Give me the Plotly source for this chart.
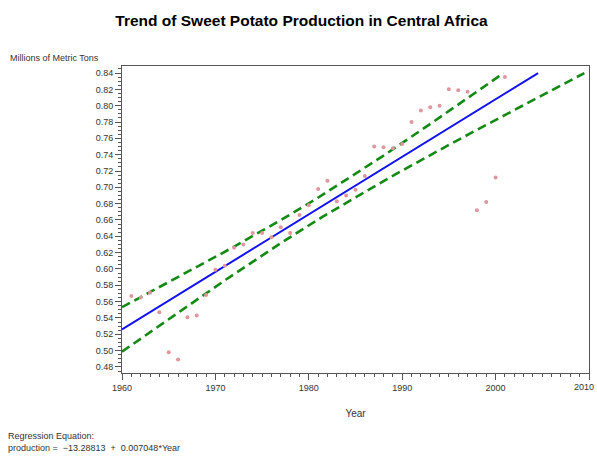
import numpy as np
import plotly.graph_objects as go

# Annual sweet potato production in Central Africa (millions of metric tons)
years = [1961, 1962, 1963, 1964, 1965, 1966, 1967, 1968, 1969, 1970,
         1971, 1972, 1973, 1974, 1975, 1976, 1977, 1978, 1979, 1980,
         1981, 1982, 1983, 1984, 1985, 1986, 1987, 1988, 1989, 1990,
         1991, 1992, 1993, 1994, 1995, 1996, 1997, 1998, 1999, 2000, 2001]
production = [0.567, 0.565, 0.571, 0.547, 0.498, 0.489, 0.541, 0.543, 0.568, 0.599,
              0.604, 0.626, 0.630, 0.644, 0.644, 0.639, 0.651, 0.644, 0.666, 0.678,
              0.698, 0.708, 0.683, 0.690, 0.697, 0.714, 0.750, 0.749, 0.748, 0.753,
              0.780, 0.794, 0.798, 0.800, 0.820, 0.819, 0.817, 0.672, 0.682, 0.712, 0.835]

# Fitted regression equation
intercept = -13.28813
slope = 0.007048

y_ticks = [0.48, 0.50, 0.52, 0.54, 0.56, 0.58, 0.60, 0.62, 0.64, 0.66, 0.68,
           0.70, 0.72, 0.74, 0.76, 0.78, 0.80, 0.82, 0.84]
x_ticks = [1960, 1970, 1980, 1990, 2000, 2010]
y_max_line = 0.84

x = np.array(years, dtype=float)
yv = np.array(production)
n = len(x)
resid = yv - (intercept + slope * x)
s = np.sqrt(np.sum(resid ** 2) / (n - 2))
xbar = x.mean()
sxx = np.sum((x - xbar) ** 2)
t95 = 2.0227  # t(0.975, 39)

grid = np.linspace(1960, 2010, 1001)
fit = intercept + slope * grid
half = t95 * s * np.sqrt(1.0 / n + (grid - xbar) ** 2 / sxx)
lower = fit - half
upper = fit + half


def clip(arr):
    return [v if v <= y_max_line else None for v in arr]


fig = go.Figure()
fig.add_trace(go.Scatter(x=grid, y=clip(upper), mode="lines",
                         line=dict(color="#138a13", width=2.6, dash="9px,5px"),
                         hoverinfo="skip"))
fig.add_trace(go.Scatter(x=grid, y=clip(lower), mode="lines",
                         line=dict(color="#138a13", width=2.6, dash="9px,5px"),
                         hoverinfo="skip"))
fig.add_trace(go.Scatter(x=grid, y=clip(fit), mode="lines",
                         line=dict(color="#1010f0", width=2)))
fig.add_trace(go.Scatter(x=years, y=production, mode="markers",
                         marker=dict(color="#e0959f", size=4, symbol="circle")))

# The last year label sits flush with the page edge, so it is placed separately
x_ticktext = [str(v) for v in x_ticks[:-1]] + [""]

font = "Liberation Sans, Arial, sans-serif"
fig.update_layout(
    width=597, height=460,
    margin=dict(l=122, r=8, t=66, b=87),
    paper_bgcolor="white", plot_bgcolor="white",
    showlegend=False,
    font=dict(family=font, size=9, color="#222"),
    title=dict(text="<b>Trend of Sweet Potato Production in Central Africa</b>",
               x=0.505, xanchor="center", y=0.956, yanchor="middle",
               font=dict(size=15.5, color="#000", family=font)),
    xaxis=dict(range=[1960, 2010], tickvals=x_ticks, ticktext=x_ticktext,
               showgrid=False, zeroline=False, showline=True, linecolor="#555",
               linewidth=1, mirror=True, ticks="outside", ticklen=6, tickcolor="#555",
               automargin=False,
               minor=dict(dtick=1, ticks="outside", ticklen=3, tickcolor="#555"),
               tickfont=dict(size=9, color="#333"),
               title=dict(text="Year", font=dict(size=10, color="#333"), standoff=18)),
    yaxis=dict(range=[0.4726, 0.8486], tickvals=y_ticks,
               ticktext=[f"{v:.2f}" for v in y_ticks], automargin=False,
               showgrid=False, zeroline=False, showline=True, linecolor="#555",
               linewidth=1, mirror=True, ticks="outside", ticklen=6, tickcolor="#555",
               minor=dict(dtick=0.005, tick0=0.48, ticks="outside", ticklen=3,
                          tickcolor="#555"),
               tickfont=dict(size=9, color="#333")),
)

fig.add_annotation(text=str(x_ticks[-1]), xref="paper", yref="paper",
                   x=1 + 7 / 467, y=-(387 - 373) / 307, xanchor="right", yanchor="middle",
                   showarrow=False, font=dict(size=9, color="#333"))
fig.add_annotation(text="Millions of Metric Tons", xref="paper", yref="paper",
                   x=-114 / 467, y=1 + (66 - 58) / 307, xanchor="left", yanchor="middle",
                   showarrow=False, font=dict(size=9, color="#333"))
fig.add_annotation(text="Regression Equation:<br>production =  \u221213.28813  +  0.007048*Year",
                   xref="paper", yref="paper", x=-116 / 467, y=-(442 - 373) / 307,
                   xanchor="left", yanchor="middle", align="left", showarrow=False,
                   font=dict(size=9, color="#333"))

fig.write_html("out.html")
